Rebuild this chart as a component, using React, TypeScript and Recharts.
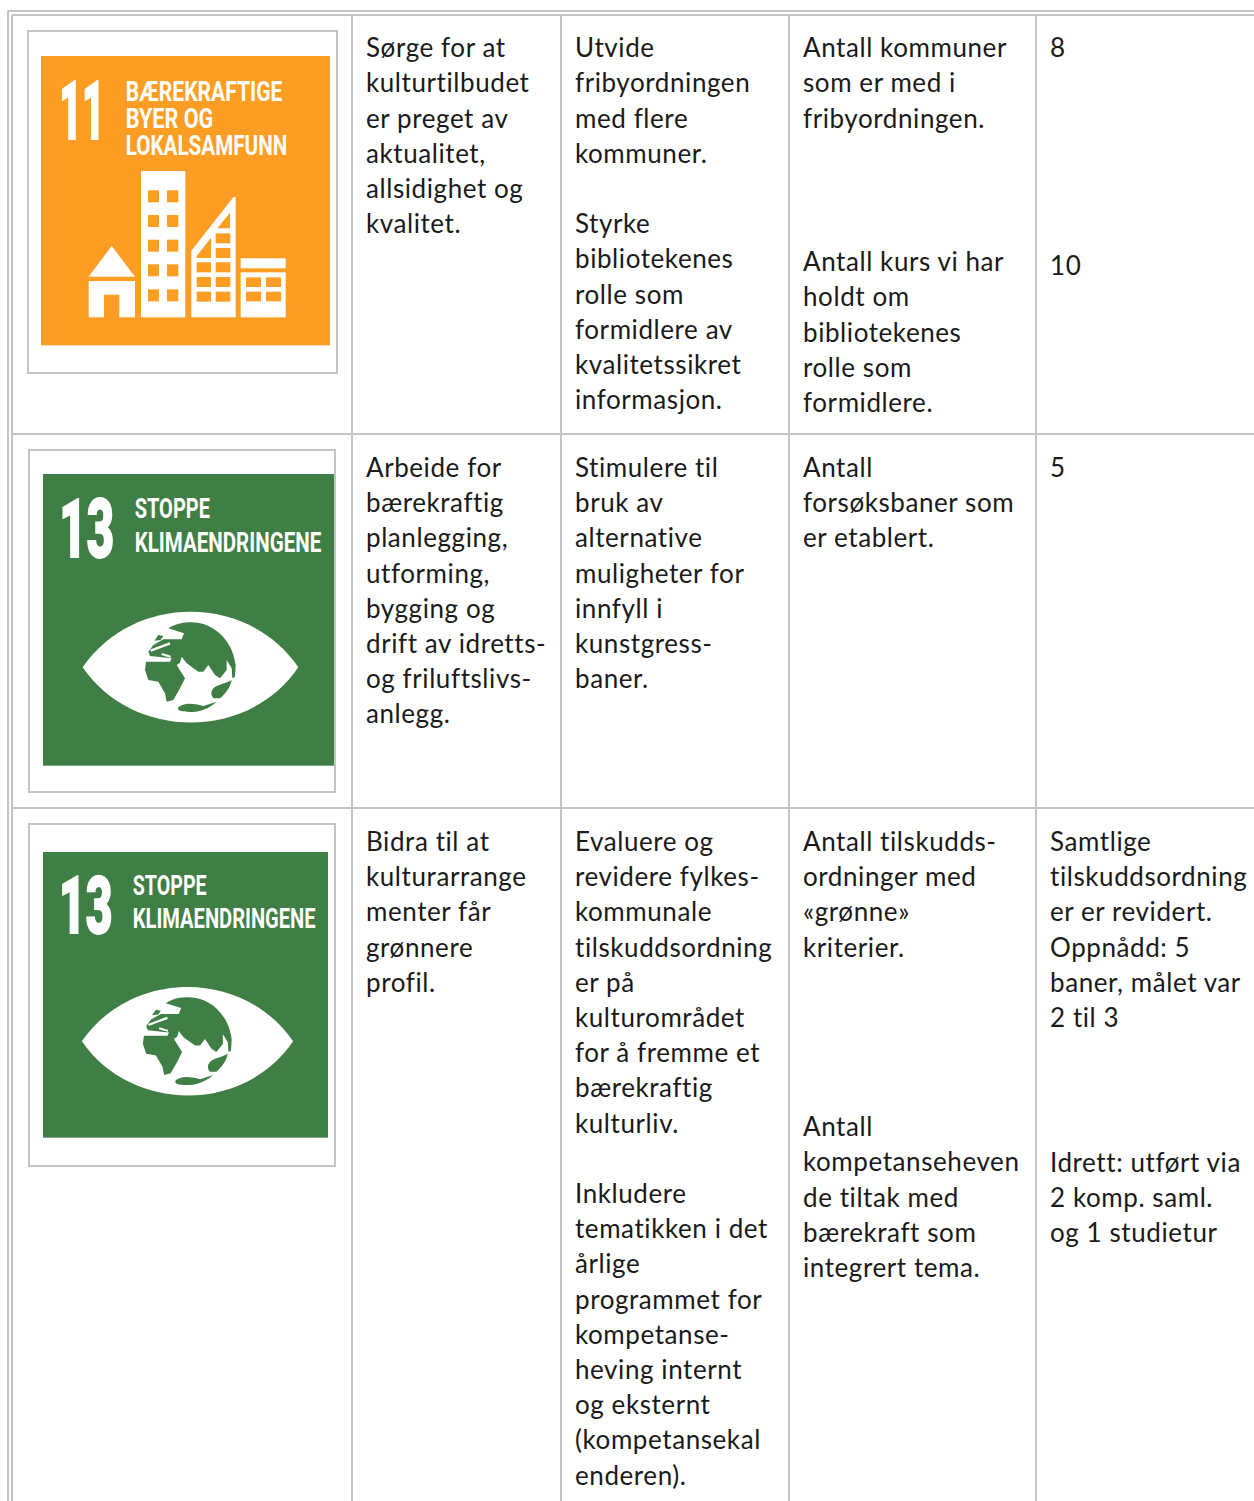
import React from "react";
import { ScatterChart, Scatter, XAxis, YAxis, ReferenceLine, ReferenceArea } from "recharts";

const WIDTH = 1254;
const HEIGHT = 1501;
const LINE_COLOR = "#c4c4c4";
const TEXT_COLOR = "#1a1a1a";
const ORANGE = "#fd9d24";
const GREEN = "#3f7e44";
const LINE_PITCH = 35.2;

// cell texts, row by row
const goalCulture = ["Sørge for at", "kulturtilbudet", "er preget av", "aktualitet,", "allsidighet og", "kvalitet."];
const actionCulture = ["Utvide", "fribyordningen", "med flere", "kommuner.", "", "Styrke", "bibliotekenes", "rolle som", "formidlere av", "kvalitetssikret", "informasjon."];
const measureTowns = ["Antall kommuner", "som er med i", "fribyordningen."];
const measureCourses = ["Antall kurs vi har", "holdt om", "bibliotekenes", "rolle som", "formidlere."];
const resultTowns = ["8"];
const resultCourses = ["10"];

const goalSport = ["Arbeide for", "bærekraftig", "planlegging,", "utforming,", "bygging og", "drift av idretts-", "og friluftslivs-", "anlegg."];
const actionSport = ["Stimulere til", "bruk av", "alternative", "muligheter for", "innfyll i", "kunstgress-", "baner."];
const measureSport = ["Antall", "forsøksbaner som", "er etablert."];
const resultSport = ["5"];

const goalGreen = ["Bidra til at", "kulturarrange", "menter får", "grønnere", "profil."];
const actionGreen = ["Evaluere og", "revidere fylkes-", "kommunale", "tilskuddsordning", "er på", "kulturområdet", "for å fremme et", "bærekraftig", "kulturliv.", "", "Inkludere", "tematikken i det", "årlige", "programmet for", "kompetanse-", "heving internt", "og eksternt", "(kompetansekal", "enderen)."];
const measureGrants = ["Antall tilskudds-", "ordninger med", "«grønne»", "kriterier."];
const measureSkills = ["Antall", "kompetanseheven", "de tiltak med", "bærekraft som", "integrert tema."];
const resultGrants = ["Samtlige", "tilskuddsordning", "er er revidert.", "Oppnådd: 5", "baner, målet var", "2 til 3"];
const resultSkills = ["Idrett: utført via", "2 komp. saml.", "og 1 studietur"];

// table geometry, in page pixels (axis domain equals the page)
const columnEdges = [12, 352, 561, 789, 1036];
const rowEdges = [15, 434, 808];
const textColumns = [366, 575, 803, 1050];

const blocks: { lines: string[]; col: number; top: number }[] = [
  { lines: goalCulture, col: 0, top: 57.2 },
  { lines: actionCulture, col: 1, top: 57.2 },
  { lines: measureTowns, col: 2, top: 57.2 },
  { lines: measureCourses, col: 2, top: 271.1 },
  { lines: resultTowns, col: 3, top: 57.2 },
  { lines: resultCourses, col: 3, top: 275 },
  { lines: goalSport, col: 0, top: 477 },
  { lines: actionSport, col: 1, top: 477 },
  { lines: measureSport, col: 2, top: 477 },
  { lines: resultSport, col: 3, top: 477 },
  { lines: goalGreen, col: 0, top: 851 },
  { lines: actionGreen, col: 1, top: 851 },
  { lines: measureGrants, col: 2, top: 851 },
  { lines: measureSkills, col: 2, top: 1136.2 },
  { lines: resultGrants, col: 3, top: 851 },
  { lines: resultSkills, col: 3, top: 1171.8 },
];

const textPoints = blocks.flatMap((b) =>
  b.lines.map((text, i) => ({ x: textColumns[b.col], y: b.top + i * LINE_PITCH, text }))
).filter((p) => p.text !== "");

const frames = [
  { x1: 28, x2: 337, y1: 31, y2: 373 },
  { x1: 29, x2: 335, y1: 450, y2: 792 },
  { x1: 29, x2: 335, y1: 824, y2: 1166 },
];

const iconPoints = [
  { x: 41, y: 56, side: 289, goal: 11 },
  { x: 43, y: 474, side: 291, goal: 13 },
  { x: 43, y: 852, side: 285, goal: 13 },
];

const headingStyle = { fontFamily: "Roboto", fontWeight: 700, fill: "#fff" };

function Heading({ x, y, w, size, text }: { x: number; y: number; w: number; size: number; text: string }) {
  return (
    <text x={x} y={y} fontSize={size} textLength={w} lengthAdjust="spacingAndGlyphs" {...headingStyle}>
      {text}
    </text>
  );
}

function BigNumber({ x, y, w, text }: { x: number; y: number; w: number; text: string }) {
  return (
    <text x={x} y={y} fontSize={246} textLength={w} lengthAdjust="spacingAndGlyphs" fontFamily="Roboto" fontWeight={900} fill="#fff" stroke="#fff" strokeWidth={6}>
      {text}
    </text>
  );
}

const windowRows = [571, 645, 719, 793, 868];
const wedgeRows = [700, 744, 787, 831, 875];

function CityIcon({ x, y, k }: { x: number; y: number; k: number }) {
  return (
    <g transform={`translate(${x},${y}) scale(${k}) translate(-123,-168)`}>
      <rect x={123} y={168} width={867} height={868} fill={ORANGE} />
      <BigNumber x={178} y={416} w={136} text="11" />
      <Heading x={377} y={303} w={470} size={82} text="BÆREKRAFTIGE" />
      <Heading x={377} y={384} w={263} size={82} text="BYER OG" />
      <Heading x={377} y={465} w={485} size={82} text="LOKALSAMFUNN" />
      <path d="M335 738L405 830H266Z" fill="#fff" />
      <path d="M266 843H405V952H358V884H312V952H266Z" fill="#fff" />
      <rect x={423} y={513} width={133} height={439} fill="#fff" />
      {windowRows.map((wy) => (
        <g key={wy} fill={ORANGE}>
          <rect x={444} y={wy} width={33} height={36} />
          <rect x={501} y={wy} width={34} height={36} />
        </g>
      ))}
      <path d="M574 752L700 592H707V952H574Z" fill="#fff" />
      <path d="M690 638V685H652Z" fill={ORANGE} />
      <path d="M590 768L633 713V774H590Z" fill={ORANGE} />
      {wedgeRows.map((wy) => (
        <rect key={wy} x={647} y={wy} width={44} height={30} fill={ORANGE} />
      ))}
      {wedgeRows.slice(2).map((wy) => (
        <rect key={wy} x={590} y={wy} width={43} height={30} fill={ORANGE} />
      ))}
      <rect x={722} y={775} width={135} height={30} fill="#fff" />
      <rect x={722} y={817} width={135} height={135} fill="#fff" />
      {[832, 875].map((wy) => (
        <g key={wy} fill={ORANGE}>
          <rect x={738} y={wy} width={45} height={29} />
          <rect x={798} y={wy} width={45} height={29} />
        </g>
      ))}
    </g>
  );
}

function ClimateIcon({ x, y, k }: { x: number; y: number; k: number }) {
  return (
    <g transform={`translate(${x},${y}) scale(${k}) translate(-129,-132)`}>
      <rect x={129} y={132} width={873} height={875} fill={GREEN} />
      <BigNumber x={178} y={381} w={164} text="13" />
      <Heading x={404} y={263} w={226} size={82} text="STOPPE" />
      <Heading x={404} y={365} w={560} size={82} text="KLIMAENDRINGENE" />
      <path d="M248 712C400 490 745 490 895 712C745 933 400 933 248 712Z" fill="#fff" />
      {/* dome, europe and africa as one landmass */}
      <path
        d="M505 595C530 580 550 577 575 577C625 578 665 605 690 650C698 665 704 685 707 705L705 740L697 745L695 715L680 690L680 720L660 745L645 735L625 705L610 725L595 725L560 700L545 680L540 698L530 705L555 745L540 775L520 810L500 815L495 790L475 755L445 750L435 720L438 695L510 695L515 685L450 678L445 665L460 645L490 628L545 628L552 610Z"
        fill={GREEN}
      />
      {/* white streaks across europe */}
      <path d="M452 662L478 652L510 640" stroke="#fff" strokeWidth={7} fill="none" />
      <path d="M485 672L512 680" stroke="#fff" strokeWidth={6} fill="none" />
      <path d="M463 632L475 615L490 618L482 630Z" fill={GREEN} />
      {/* australia, antarctica */}
      <path d="M640 775C655 762 680 760 695 750C692 770 678 790 660 805L640 805C632 795 632 785 640 775Z" fill={GREEN} />
      <path d="M535 832C550 818 575 818 610 828L650 815C620 842 590 846 570 846C545 846 530 842 535 832Z" fill={GREEN} />
    </g>
  );
}

function IconShape(props: any) {
  const { cx, cy, payload } = props;
  if (payload.goal === 11) return <CityIcon x={cx} y={cy} k={payload.side / 867} />;
  return <ClimateIcon x={cx} y={cy} k={payload.side / 873} />;
}

function TextShape(props: any) {
  const { cx, cy, payload } = props;
  return (
    <text x={cx} y={cy} fontFamily="Lato" fontSize={26} letterSpacing={0.58} fill={TEXT_COLOR} style={{ fontVariantLigatures: "none" }}>
      {payload.text}
    </text>
  );
}

export default function App() {
  return (
    <div style={{ position: "absolute", left: 0, top: 0, width: WIDTH, height: HEIGHT, background: "#fff" }}>
      <ScatterChart width={WIDTH} height={HEIGHT} margin={{ top: 0, right: 0, bottom: 0, left: 0 }}>
        <XAxis type="number" dataKey="x" domain={[0, WIDTH]} hide />
        <YAxis type="number" dataKey="y" domain={[0, HEIGHT]} reversed hide width={0} />

        {/* outer double border */}
        <ReferenceLine segment={[{ x: 8, y: 11 }, { x: WIDTH, y: 11 }]} stroke={LINE_COLOR} strokeWidth={2} />
        <ReferenceLine segment={[{ x: 8, y: 11 }, { x: 8, y: HEIGHT }]} stroke={LINE_COLOR} strokeWidth={2} />

        {columnEdges.map((x) => (
          <ReferenceLine key={x} segment={[{ x, y: rowEdges[0] }, { x, y: HEIGHT }]} stroke={LINE_COLOR} strokeWidth={2} />
        ))}
        {rowEdges.map((y) => (
          <ReferenceLine key={y} segment={[{ x: columnEdges[0], y }, { x: WIDTH, y }]} stroke={LINE_COLOR} strokeWidth={2} />
        ))}
        {frames.map((f) => (
          <ReferenceArea key={f.y1} {...f} fill="#fff" fillOpacity={1} stroke={LINE_COLOR} strokeWidth={2} />
        ))}

        <Scatter data={iconPoints} shape={IconShape} isAnimationActive={false} />
        <Scatter data={textPoints} shape={TextShape} isAnimationActive={false} />
      </ScatterChart>
    </div>
  );
}
